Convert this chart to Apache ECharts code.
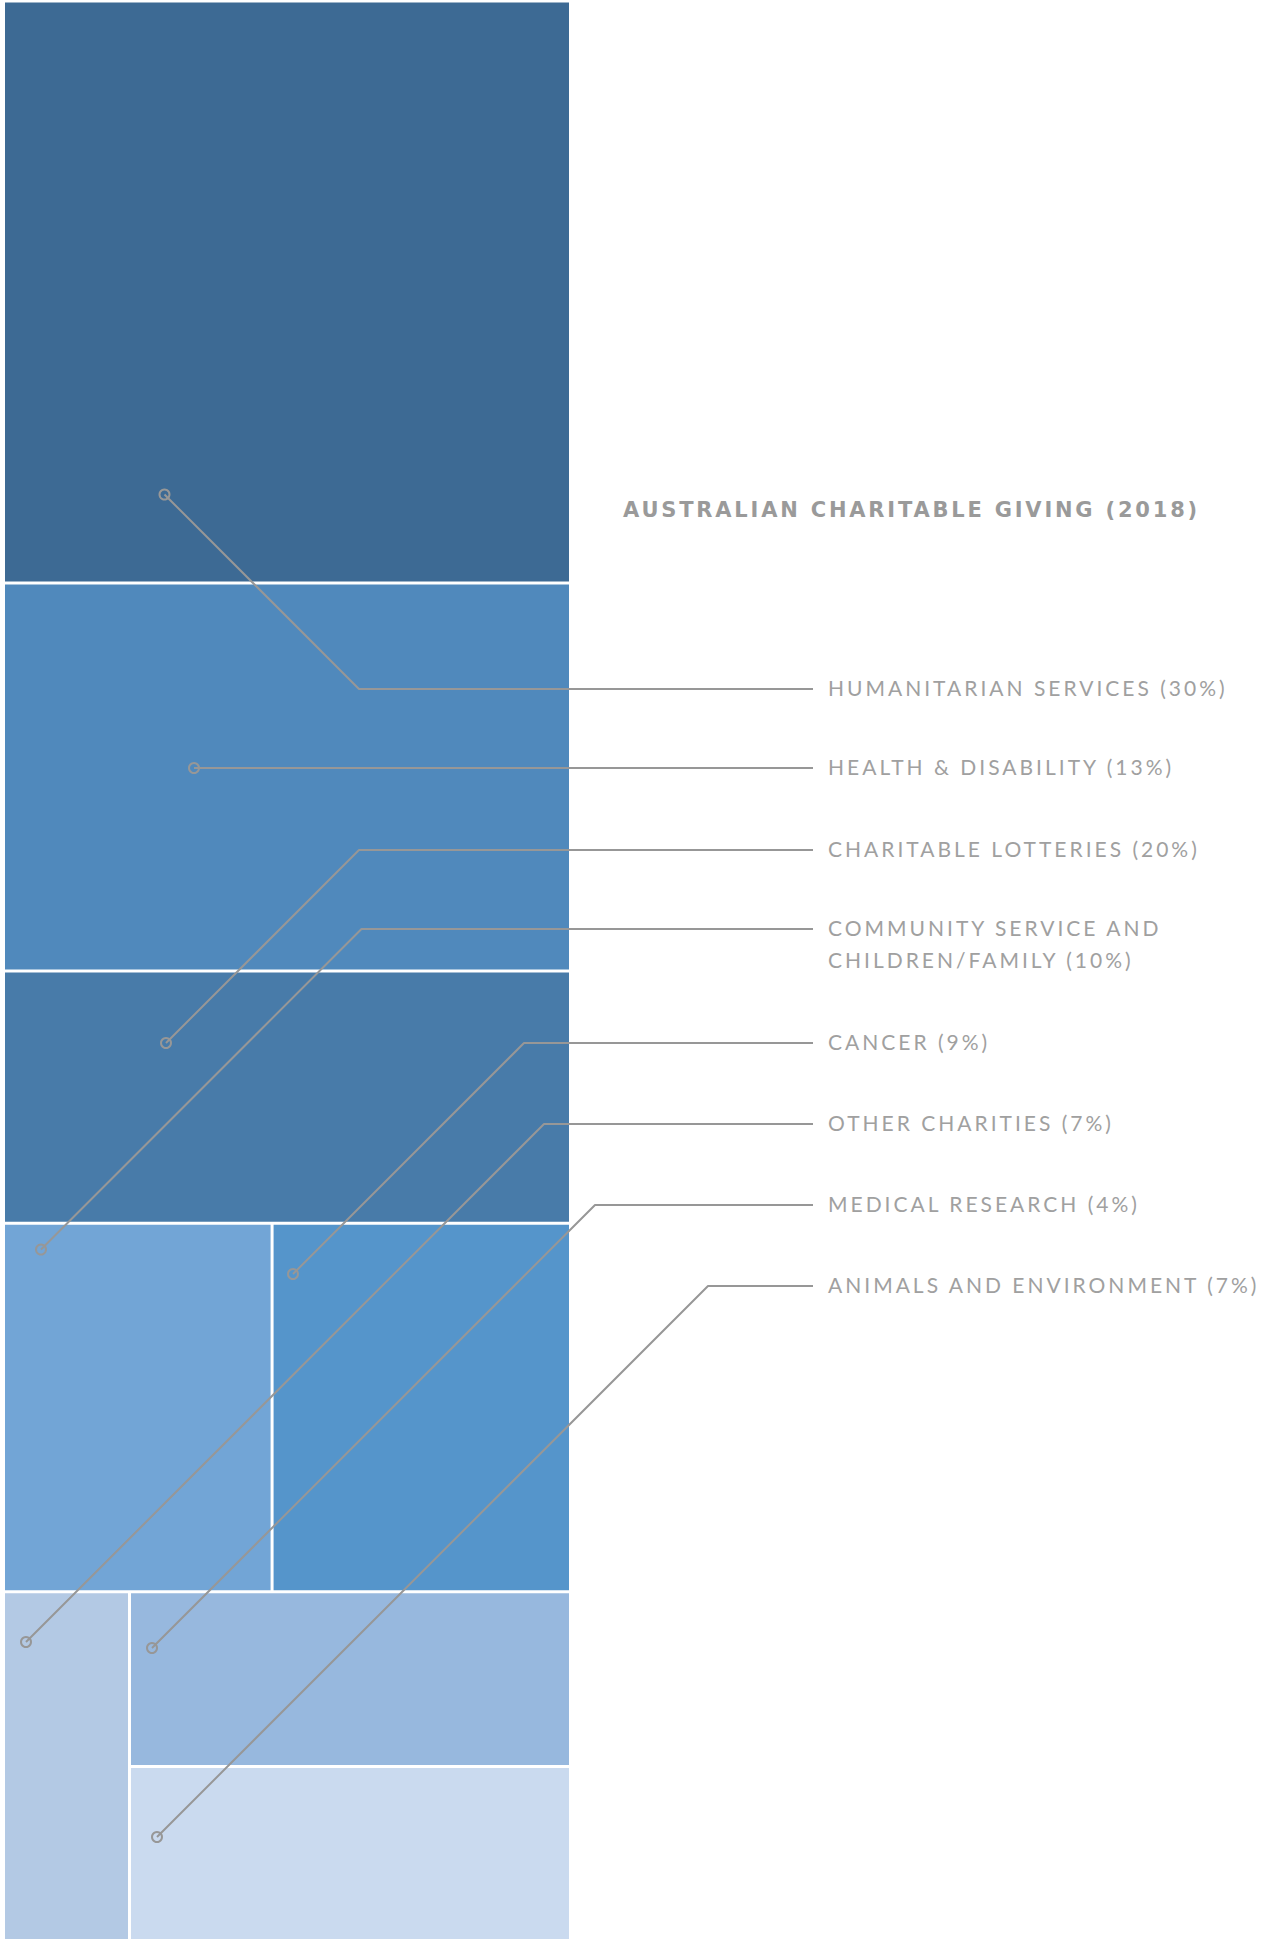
<!DOCTYPE html>
<html>
<head>
<meta charset="utf-8">
<title>Australian Charitable Giving (2018)</title>
<script src="https://cdn.jsdelivr.net/npm/echarts@6/dist/echarts.min.js"></script>
<style>
  html, body { margin: 0; padding: 0; background: #fff; }
  #main { width: 1268px; height: 1939px; }
  /* canvas text can't be letter-spaced, so the chart is drawn as svg */
  #main text { letter-spacing: 3px; }
  #main text[style*="bold"] { letter-spacing: 2.8px; }
</style>
</head>
<body>
<div id="main"></div>
<script>
// categories in the order of the legend on the right
var categories = [
  'HUMANITARIAN SERVICES',
  'HEALTH & DISABILITY',
  'CHARITABLE LOTTERIES',
  'COMMUNITY SERVICE AND\nCHILDREN/FAMILY',
  'CANCER',
  'OTHER CHARITIES',
  'MEDICAL RESEARCH',
  'ANIMALS AND ENVIRONMENT'
];
// share of giving, %
var shares = [30, 13, 20, 10, 9, 7, 4, 7];

var cellColors = ['#3d6a94', '#487ba9', '#5089bc', '#5595cb', '#72a5d6', '#97b8de', '#b3c9e4', '#cadaef'];

// callout layout (px): where each leader line starts inside the treemap,
// and the y of its label row
var anchors = [[164.5, 494.5], [194, 768], [166, 1043], [41, 1249.5], [293, 1274], [26, 1642], [152, 1648], [157, 1837]];
var rowY = [689, 768, 850, 929, 1043, 1124, 1205, 1286];
var lineEndX = 813;

var chart = echarts.init(document.getElementById('main'), null, { renderer: 'svg' });

function leaf(i) {
  return {
    name: categories[i].replace('\n', ' '),
    value: shares[i],
    itemStyle: { color: cellColors[i], borderWidth: 1.5, borderColor: '#fff' }
  };
}

// nesting keeps the squarify layout in stacked bands like the original
var treeData = [
  leaf(0),
  { name: 'rest', children: [
    { name: 'upper', children: [leaf(2), leaf(1)] },
    { name: 'lower', children: [
      { name: 'pair', children: [leaf(4), leaf(3)] },
      { name: 'small', children: [
        leaf(6),
        { name: 'sevens', children: [leaf(5), leaf(7)] }
      ] }
    ] }
  ] }
];

var calloutSeries = categories.map(function (name, i) {
  var a = anchors[i];
  var y = rowY[i];
  var elbowX = a[0] + Math.abs(a[1] - y);   // 45 degree leg
  var text = name + ' (' + shares[i] + '%)';
  return {
    type: 'line',
    name: text,
    silent: true,
    animation: false,
    z: 5,
    data: [
      { value: [a[0], a[1]], symbol: 'circle' },
      { value: [elbowX, y], symbol: 'none' },
      { value: [lineEndX, y], symbol: 'none' }
    ],
    symbolSize: 10,
    itemStyle: { color: 'rgba(0,0,0,0)', borderColor: '#979797', borderWidth: 2 },
    lineStyle: { color: '#979797', width: 2 },
    endLabel: {
      show: true,
      formatter: text,
      distance: 15,
      color: '#a0a0a0',
      fontFamily: 'Lato',
      fontSize: 21,
      lineHeight: 32,
      offset: name.indexOf('\n') >= 0 ? [0, 14] : [0, -2]
    }
  };
});

var option = {
  animation: false,
  title: {
    text: 'AUSTRALIAN CHARITABLE GIVING (2018)',
    left: 623,
    top: 499,
    padding: 0,
    textStyle: { color: '#9a9a9a', fontFamily: 'DejaVu Sans', fontWeight: 'bold', fontSize: 21 }
  },
  grid: { left: 0, right: 0, top: 0, bottom: 0 },
  xAxis: { type: 'value', min: 0, max: 1268, show: false },
  yAxis: { type: 'value', min: 0, max: 1939, inverse: true, show: false },
  series: [
    {
      type: 'treemap',
      left: 3.5,
      top: 1,
      width: 567,
      height: 1940,
      sort: false,
      squareRatio: 1.28,
      roam: false,
      nodeClick: false,
      silent: true,
      breadcrumb: { show: false },
      label: { show: false },
      upperLabel: { show: false },
      data: treeData
    }
  ].concat(calloutSeries)
};

chart.setOption(option);
</script>
</body>
</html>
